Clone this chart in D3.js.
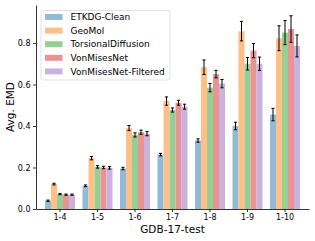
<!DOCTYPE html>
<html>
<head>
<meta charset="utf-8">
<script src="https://cdn.jsdelivr.net/npm/d3@7"></script>
<style>
  html, body { margin: 0; padding: 0; background: #fff; }
  svg { display: block; font-family: "DejaVu Sans", sans-serif; }
</style>
</head>
<body>
<div id="chart"></div>
<script>
// Avg. EMD by molecule size bucket on GDB-17-test
const categories = ['1-4', '1-5', '1-6', '1-7', '1-8', '1-9', '1-10'];
const methods = ['ETKDG-Clean', 'GeoMol', 'TorsionalDiffusion', 'VonMisesNet', 'VonMisesNet-Filtered'];
const colors = ['#8fbbd9', '#ffbf86', '#95cf95', '#ea9393', '#c9b3de'];

const etkdgMean = [0.040, 0.112, 0.195, 0.262, 0.330, 0.400, 0.455];
const etkdgErr  = [0.003, 0.004, 0.006, 0.006, 0.008, 0.018, 0.030];
const geomolMean = [0.120, 0.245, 0.390, 0.520, 0.683, 0.857, 0.823];
const geomolErr  = [0.004, 0.008, 0.012, 0.020, 0.035, 0.047, 0.060];
const torsionalMean = [0.072, 0.203, 0.357, 0.477, 0.585, 0.700, 0.850];
const torsionalErr  = [0.003, 0.006, 0.010, 0.010, 0.020, 0.030, 0.058];
const vonMisesMean = [0.069, 0.200, 0.370, 0.512, 0.650, 0.763, 0.867];
const vonMisesErr  = [0.003, 0.006, 0.010, 0.012, 0.018, 0.034, 0.064];
const filteredMean = [0.069, 0.198, 0.363, 0.493, 0.604, 0.700, 0.786];
const filteredErr  = [0.003, 0.006, 0.010, 0.012, 0.020, 0.032, 0.053];

const yTicks = [0.0, 0.2, 0.4, 0.6, 0.8];

const means = [etkdgMean, geomolMean, torsionalMean, vonMisesMean, filteredMean];
const errs = [etkdgErr, geomolErr, torsionalErr, vonMisesErr, filteredErr];

const width = 315, height = 241;
const margin = { top: 5, right: 6, bottom: 32, left: 36 };

const svg = d3.select('#chart').append('svg')
  .attr('width', width)
  .attr('height', height);

// band for categories, padding chosen so a group is 0.8 of a step and edges get matplotlib margins
const x = d3.scaleBand()
  .domain(categories)
  .range([margin.left, width - margin.right])
  .paddingInner(0.2)
  .paddingOuter(0.24);

const xInner = d3.scaleBand()
  .domain(methods)
  .range([0, x.bandwidth()]);

const y = d3.scaleLinear()
  .domain([0, 0.983])
  .range([height - margin.bottom, margin.top]);

// flatten into rows
const rows = [];
categories.forEach((c, ci) => {
  methods.forEach((m, mi) => {
    rows.push({ cat: c, method: m, mi, v: means[mi][ci], e: errs[mi][ci] });
  });
});

// bars
svg.append('g')
  .selectAll('rect')
  .data(rows)
  .join('rect')
  .attr('x', d => x(d.cat) + xInner(d.method))
  .attr('width', xInner.bandwidth())
  .attr('y', d => y(d.v))
  .attr('height', d => y(0) - y(d.v))
  .attr('fill', d => colors[d.mi]);

// error bars
const eb = svg.append('g')
  .attr('stroke', '#000')
  .attr('stroke-width', 1);

eb.selectAll('line.stem')
  .data(rows)
  .join('line')
  .attr('class', 'stem')
  .attr('x1', d => x(d.cat) + xInner(d.method) + xInner.bandwidth() / 2)
  .attr('x2', d => x(d.cat) + xInner(d.method) + xInner.bandwidth() / 2)
  .attr('y1', d => y(d.v - d.e))
  .attr('y2', d => y(d.v + d.e));

[1, -1].forEach(sign => {
  eb.selectAll('line.cap' + (sign > 0 ? 'hi' : 'lo'))
    .data(rows)
    .join('line')
    .attr('class', 'cap' + (sign > 0 ? 'hi' : 'lo'))
    .attr('x1', d => x(d.cat) + xInner(d.method) + xInner.bandwidth() / 2 - 1.6)
    .attr('x2', d => x(d.cat) + xInner(d.method) + xInner.bandwidth() / 2 + 1.6)
    .attr('y1', d => y(d.v + sign * d.e))
    .attr('y2', d => y(d.v + sign * d.e));
});

// axes
const xAxis = svg.append('g')
  .attr('transform', `translate(0,${height - margin.bottom})`)
  .call(d3.axisBottom(x).tickSize(3).tickPadding(2.5).tickSizeOuter(0));

const yAxis = svg.append('g')
  .attr('transform', `translate(${margin.left},0)`)
  .call(d3.axisLeft(y).tickValues(yTicks).tickFormat(d3.format('.1f')).tickSize(3).tickPadding(2.5).tickSizeOuter(0));

[xAxis, yAxis].forEach(a => {
  a.selectAll('text')
    .style('font-size', '8px')
    .style('font-family', '"DejaVu Sans", sans-serif')
    .attr('fill', '#000');
  a.selectAll('line').attr('stroke', '#000').attr('stroke-width', 0.8);
  a.select('.domain').attr('stroke', '#000').attr('stroke-width', 0.8);
});

// axis titles
svg.append('text')
  .attr('x', (margin.left + width - margin.right) / 2)
  .attr('y', height - 8.5)
  .attr('text-anchor', 'middle')
  .style('font-size', '10.5px')
  .text('GDB-17-test');

svg.append('text')
  .attr('transform', `translate(13.5,${(margin.top + height - margin.bottom) / 2}) rotate(-90)`)
  .attr('text-anchor', 'middle')
  .style('font-size', '10.5px')
  .text('Avg. EMD');

// legend
const legend = svg.append('g')
  .attr('transform', 'translate(41,10.5)');

legend.append('rect')
  .attr('width', 129)
  .attr('height', 69.5)
  .attr('rx', 2)
  .attr('fill', 'rgba(255,255,255,0.8)')
  .attr('stroke', '#d9d9d9')
  .attr('stroke-width', 0.8);

const items = legend.selectAll('g.item')
  .data(methods)
  .join('g')
  .attr('class', 'item')
  .attr('transform', (d, i) => `translate(4,${6.5 + i * 13.6})`);

items.append('rect')
  .attr('width', 17.5)
  .attr('height', 6)
  .attr('y', -3)
  .attr('fill', (d, i) => colors[i]);

items.append('text')
  .attr('x', 25.5)
  .attr('dy', '0.35em')
  .style('font-size', '9px')
  .text(d => d);
</script>
</body>
</html>
